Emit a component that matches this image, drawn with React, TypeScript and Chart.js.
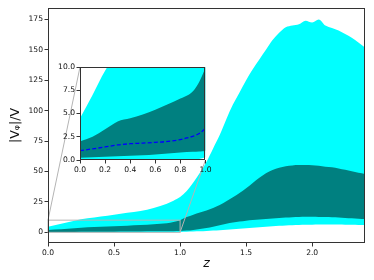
import React, { useEffect, useRef } from 'react';
import { Chart, registerables } from 'chart.js';

Chart.register(...registerables);

// ---- data ----
const zGrid = [0, 0.1, 0.2, 0.3, 0.4, 0.5, 0.6, 0.7, 0.8, 0.9, 0.95, 1.0, 1.05, 1.1, 1.15, 1.2, 1.25, 1.3, 1.35, 1.4, 1.45, 1.5, 1.55, 1.6, 1.65, 1.7, 1.75, 1.8, 1.85, 1.9, 1.95, 2.0, 2.05, 2.1, 2.15, 2.2, 2.25, 2.3, 2.35, 2.4];
const cyanUpper = [4.5, 7, 9.6, 11.5, 13, 14.5, 16, 17.5, 20, 23.5, 26, 29, 34, 41, 49, 58, 69, 80, 93, 105, 115, 125, 134, 142, 150, 158, 164, 168.5, 170, 171, 174, 172.5, 175, 170, 168, 166, 163, 160, 156, 152];
const cyanLower = [0, 0, 0, 0, 0, 0, 0, 0, 0, 0, 0.1, 0.3, 0.5, 0.7, 0.9, 1.1, 1.4, 1.7, 2.1, 2.5, 2.9, 3.3, 3.7, 4.1, 4.5, 4.9, 5.3, 5.6, 5.8, 6.0, 6.2, 6.3, 6.4, 6.5, 6.5, 6.4, 6.3, 6.2, 6.1, 6.0];
const tealUpper = [2.0, 2.5, 3.3, 4.15, 4.5, 4.9, 5.4, 6.0, 6.6, 7.4, 8.4, 10, 12.5, 14.5, 16.2, 17.9, 20, 22.5, 25.5, 28.8, 32.3, 36.2, 40.5, 44.8, 48.5, 51.3, 53.1, 54.3, 55, 55.3, 55.3, 55.1, 54.7, 54, 53.4, 52.5, 51.4, 50.2, 49, 48];
const tealLower = [0.25, 0.3, 0.35, 0.4, 0.45, 0.5, 0.6, 0.7, 0.8, 0.88, 0.92, 1.0, 1.4, 2.0, 2.7, 3.5, 4.6, 5.8, 7.0, 8.0, 8.8, 9.5, 10.1, 10.6, 11.0, 11.4, 11.8, 12.1, 12.4, 12.6, 12.7, 12.7, 12.6, 12.5, 12.3, 12.1, 11.8, 11.5, 11.2, 11.0];
const medianZ = [0, 0.1, 0.2, 0.3, 0.4, 0.5, 0.6, 0.7, 0.8, 0.85, 0.9, 0.95, 1.0];
const medianV = [1.0, 1.2, 1.4, 1.62, 1.75, 1.82, 1.9, 2.0, 2.2, 2.37, 2.55, 2.85, 3.4];

const mainXTicks = [0, 0.5, 1, 1.5, 2];
const mainYTicks = [0, 25, 50, 75, 100, 125, 150, 175];
const insetXTicks = [0, 0.2, 0.4, 0.6, 0.8, 1.0];
const insetYTicks = [0, 2.5, 5, 7.5, 10];

const xLabel = 'z';
const yLabel = '|Vᵩ|/V';

// ---- styles ----
const CYAN = '#00ffff';
const TEAL = '#008080';
const MEDIAN = '#0000ff';
const SPINE = '#333333';
const FAMILY = 'DejaVu Sans';
const TICK_FONT = { family: FAMILY, size: 7.6 };

const W = 374;
const H = 280;
const INSET_LEFT = 56;
const INSET_TOP = 59;
const INSET_W = 157;
const INSET_H = 116;

const pts = (xs: number[], ys: number[]) => xs.map((x, i) => ({ x, y: ys[i] }));

function bandDatasets(): any[] {
  const base = { borderWidth: 0, borderColor: 'transparent', pointRadius: 0, cubicInterpolationMode: 'monotone' };
  return [
    { ...base, data: pts(zGrid, cyanLower), fill: false, order: 3 },
    { ...base, data: pts(zGrid, cyanUpper), backgroundColor: CYAN, fill: { target: 0 }, order: 2 },
    { ...base, data: pts(zGrid, tealLower), fill: false, order: 1 },
    { ...base, data: pts(zGrid, tealUpper), backgroundColor: TEAL, fill: { target: 2 }, order: 0 },
  ];
}

const framePlugin = {
  id: 'frame',
  beforeDraw(chart: any, _a: any, opts: any) {
    if (!opts.white) return;
    const { ctx, chartArea: a } = chart;
    ctx.save();
    ctx.fillStyle = '#ffffff';
    ctx.fillRect(a.left, a.top, a.right - a.left, a.bottom - a.top);
    ctx.restore();
  },
  afterDraw(chart: any) {
    const { ctx, chartArea: a } = chart;
    ctx.save();
    ctx.strokeStyle = SPINE;
    ctx.lineWidth = 1;
    const l = Math.round(a.left) + 0.5;
    const t = Math.round(a.top) + 0.5;
    const r = Math.round(a.right) - 0.5;
    const b = Math.round(a.bottom) - 0.5;
    ctx.strokeRect(l, t, r - l, b - t);
    ctx.restore();
  },
};

function axisCommon(ticksArr: number[], fmt: (v: number) => string) {
  return {
    type: 'linear' as const,
    afterBuildTicks: (s: any) => {
      s.ticks = ticksArr.map((v) => ({ value: v }));
    },
    ticks: {
      autoSkip: false,
      maxRotation: 0,
      minRotation: 0,
      padding: 1.5,
      color: '#111',
      font: TICK_FONT,
      callback: (v: any) => fmt(Number(v)),
    },
    grid: { display: true, drawOnChartArea: false, drawTicks: true, tickLength: 3.5, tickColor: SPINE, tickWidth: 1 },
    border: { display: false },
  };
}

export default function App() {
  const mainRef = useRef<HTMLCanvasElement | null>(null);
  const insetRef = useRef<HTMLCanvasElement | null>(null);

  useEffect(() => {
    document.body.style.margin = '0';
    const insetCanvas = insetRef.current!;
    const mainCanvas = mainRef.current!;

    const inset = new Chart(insetCanvas, {
      type: 'line',
      data: {
        datasets: [
          ...bandDatasets(),
          {
            data: pts(medianZ, medianV),
            borderColor: MEDIAN,
            borderWidth: 1.3,
            borderDash: [4, 2.2],
            pointRadius: 0,
            fill: false,
            cubicInterpolationMode: 'monotone',
            order: -1,
          },
        ],
      },
      options: {
        responsive: false,
        animation: false,
        devicePixelRatio: 1,
        layout: { padding: { left: 0, right: 7, top: 8, bottom: 0 } },
        plugins: { legend: { display: false }, tooltip: { enabled: false }, frame: { white: true } } as any,
        scales: {
          x: {
            ...axisCommon(insetXTicks, (v) => v.toFixed(1)),
            min: 0,
            max: 1,
            afterFit: (s: any) => {
              s.height = 15;
            },
          },
          y: {
            ...axisCommon(insetYTicks, (v) => v.toFixed(1)),
            min: 0,
            max: 10,
            afterFit: (s: any) => {
              s.width = 24;
            },
          },
        } as any,
      },
      plugins: [framePlugin],
    });

    const insetLinks = {
      id: 'insetLinks',
      afterDatasetsDraw(chart: any) {
        const { ctx } = chart;
        const xs = chart.scales.x;
        const ys = chart.scales.y;
        const x0 = xs.getPixelForValue(0);
        const x1 = xs.getPixelForValue(1);
        const y0 = ys.getPixelForValue(0);
        const y10 = ys.getPixelForValue(10);
        const ia = inset.chartArea;
        ctx.save();
        ctx.strokeStyle = '#b4b4b4';
        ctx.lineWidth = 1;
        ctx.strokeRect(x0, y10, x1 - x0, y0 - y10);
        ctx.beginPath();
        ctx.moveTo(x0, y10);
        ctx.lineTo(INSET_LEFT + ia.left, INSET_TOP + ia.top);
        ctx.moveTo(x1, y0);
        ctx.lineTo(INSET_LEFT + ia.right, INSET_TOP + ia.bottom);
        ctx.stroke();
        ctx.restore();
      },
    };

    const main = new Chart(mainCanvas, {
      type: 'line',
      data: { datasets: bandDatasets() },
      options: {
        responsive: false,
        animation: false,
        devicePixelRatio: 1,
        layout: { padding: { left: 0, right: 9, top: 8, bottom: 0 } },
        plugins: { legend: { display: false }, tooltip: { enabled: false }, frame: { white: false } } as any,
        scales: {
          x: {
            ...axisCommon(mainXTicks, (v) => v.toFixed(1)),
            min: 0,
            max: 2.4,
            afterFit: (s: any) => {
              s.height = 37;
            },
            title: {
              display: true,
              text: xLabel,
              color: '#111',
              font: { family: FAMILY, size: 12.5, style: 'italic' },
              padding: { top: 0, bottom: 8.5 },
            },
          },
          y: {
            ...axisCommon(mainYTicks, (v) => String(Math.round(v))),
            min: -8.78,
            max: 184.4,
            afterFit: (s: any) => {
              s.width = 48;
            },
            title: {
              display: true,
              text: yLabel,
              color: '#111',
              font: { family: FAMILY, size: 12.5 },
              padding: { top: 8.5, bottom: 0 },
            },
          },
        } as any,
      },
      plugins: [framePlugin, insetLinks],
    });

    return () => {
      main.destroy();
      inset.destroy();
    };
  }, []);

  return (
    <div style={{ position: 'relative', width: W, height: H, background: '#fff' }}>
      <canvas ref={mainRef} width={W} height={H} style={{ position: 'absolute', left: 0, top: 0, width: W, height: H }} />
      <canvas
        ref={insetRef}
        width={INSET_W}
        height={INSET_H}
        style={{ position: 'absolute', left: INSET_LEFT, top: INSET_TOP, width: INSET_W, height: INSET_H }}
      />
    </div>
  );
}
